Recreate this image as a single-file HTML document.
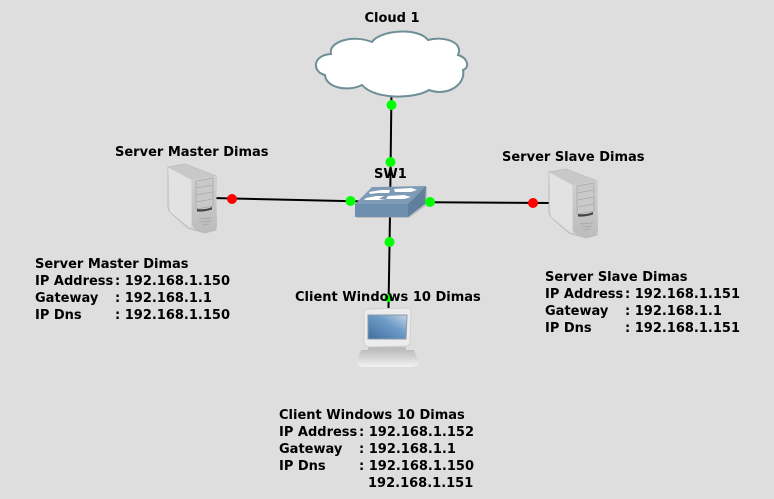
<!DOCTYPE html>
<html><head><meta charset="utf-8"><style>
html,body{margin:0;padding:0;background:#dedede;width:774px;height:499px;overflow:hidden}
svg{display:block}
text{font-family:"DejaVu Sans",sans-serif;font-weight:bold;font-size:13px;fill:#000}
</style></head><body>
<svg width="774" height="499" viewBox="0 0 774 499" xmlns="http://www.w3.org/2000/svg">
<defs>
<linearGradient id="tower" x1="0" y1="0" x2="1" y2="0"><stop offset="0" stop-color="#dcdcdc"/><stop offset="1" stop-color="#d0d0d0"/></linearGradient>
<linearGradient id="front" x1="0" y1="0" x2="0" y2="1"><stop offset="0" stop-color="#d0d0d0"/><stop offset="1" stop-color="#bcbcbc"/></linearGradient>
<linearGradient id="screen" x1="0" y1="1" x2="1" y2="0"><stop offset="0" stop-color="#3f6f9f"/><stop offset=".6" stop-color="#6f9cc8"/><stop offset="1" stop-color="#c5d5e3"/></linearGradient>
<linearGradient id="base" x1="0" y1="0" x2="0" y2="1"><stop offset="0" stop-color="#bdbdbd"/><stop offset="1" stop-color="#f2f2f2"/></linearGradient>
<g id="server">
<path d="M0 3 L17 0 L48 12 L48 66 L37 69 L20 64 L2 48 L0 44Z" fill="url(#tower)" stroke="#b0b0b0" stroke-width=".8"/>
<path d="M0 3 L17 0 L48 12 L24 16Z" fill="#c8c8c8"/>
<path d="M0 4 L23 16 L23 64 L2 48Z" fill="#e2e2e2"/>
<path d="M24 16 L48 12 L49 62 Q49 66 37 69 Q24 66 24 60Z" fill="url(#front)"/>
<path d="M28 17 L45 14 L45 42 L28 45Z" fill="#c9c9c9" stroke="#a9a9a9" stroke-width=".8"/>
<path d="M28 24 L45 21 M28 31 L45 28 M28 38 L45 35" stroke="#a9a9a9" stroke-width=".8"/>
<path d="M29 43 Q38 44 44 41 L44 43.500 Q37 46 29 45.500Z" fill="#444" transform="translate(0,2)"/>
<path d="M31 55 L44 54 M33 58 L43 57 M35 61 L41 60" stroke="#aaa" stroke-width="1"/>
</g>
</defs>
<g stroke="#000" stroke-width="2" fill="none">
<line x1="391.500" y1="90" x2="390" y2="215"/>
<line x1="390" y1="215" x2="388.500" y2="308"/>
<line x1="212" y1="198" x2="390" y2="202"/>
<line x1="390" y1="202" x2="552" y2="203"/>
</g>
<path d="M331 54 C328 42 352 34 372 42 C380 30 418 27 428 40 C442 36 464 41 458 55 C468 58 470 68 463 70 C466 84 448 97 429 90 C415 99 375 100 362 85 C348 92 326 88 325 75 C312 72 312 55 331 54Z" fill="#fff" stroke="#6e8f96" stroke-width="2"/>
<path d="M356 209 L372 186 L426 186 L426 204 L408 217 L356 217Z" fill="#a0a0a0" opacity=".5" transform="translate(1,1)"/>
<path d="M355 204 L372 187 L426 186 L408 204Z" fill="#7f9ab5"/>
<path d="M355 204 L408 204 L408 217 L355 217Z" fill="#6f8fae"/>
<path d="M408 204 L426 186 L425 204 L408 217Z" fill="#5f7f9c"/>
<g fill="#fff">
<path d="M369 192 L381 190 L390 190 L389 193 L378 193 L370 194Z"/>
<path d="M394 189 L412 188 L417 190 L411 192 L395 192Z"/>
<path d="M366 198 L376 196 L384 196 L379 199 L386 200 L372 200 L364 200Z"/>
<path d="M388 196 L404 195 L411 197 L404 199 L386 199Z"/>
</g>
<use href="#server" x="168" y="164"/>
<use href="#server" x="549" y="169"/>
<path d="M364 314 Q364 309 368 309 L408 308 Q411 308 411 312 L410 342 Q410 346 406 346 L370 347 Q364 347 364 342Z" fill="#ececec" stroke="#d0d0d0"/>
<path d="M368 315 L407 315 L406 339 L368 339Z" fill="url(#screen)" stroke="#8a9aa8"/>
<path d="M368 347 L406 347 L406 350 L368 350Z" fill="#bdbdbd"/>
<path d="M361 350 L414 350 L419 362 Q419 367 410 367 L364 367 Q357 367 357 362Z" fill="url(#base)"/>
<g fill="#00ff00">
<circle cx="391.500" cy="105" r="5"/><circle cx="390.500" cy="162" r="5"/>
<circle cx="350.500" cy="201" r="5"/><circle cx="430" cy="202" r="5"/>
<circle cx="389.500" cy="242" r="5"/><circle cx="388.500" cy="298" r="4"/>
</g>
<g fill="#ff0000"><circle cx="232" cy="199" r="5"/><circle cx="533" cy="203" r="5"/></g>
<text x="364.500" y="22">Cloud 1</text>
<text x="115" y="156">Server Master Dimas</text>
<text x="502" y="161">Server Slave Dimas</text>
<text x="374" y="178">SW1</text>
<text x="295" y="301">Client Windows 10 Dimas</text>
<text x="35" y="268">Server Master Dimas</text>
<text x="35" y="285">IP Address</text><text x="115" y="285">: 192.168.1.150</text>
<text x="35" y="302">Gateway</text><text x="115" y="302">: 192.168.1.1</text>
<text x="35" y="319">IP Dns</text><text x="115" y="319">: 192.168.1.150</text>
<text x="545" y="281">Server Slave Dimas</text>
<text x="545" y="298">IP Address</text><text x="625" y="298">: 192.168.1.151</text>
<text x="545" y="315">Gateway</text><text x="625" y="315">: 192.168.1.1</text>
<text x="545" y="332">IP Dns</text><text x="625" y="332">: 192.168.1.151</text>
<text x="279" y="419">Client Windows 10 Dimas</text>
<text x="279" y="436">IP Address</text><text x="359" y="436">: 192.168.1.152</text>
<text x="279" y="453">Gateway</text><text x="359" y="453">: 192.168.1.1</text>
<text x="279" y="470">IP Dns</text><text x="359" y="470">: 192.168.1.150</text>
<text x="368" y="487">192.168.1.151</text>
</svg>
</body></html>
